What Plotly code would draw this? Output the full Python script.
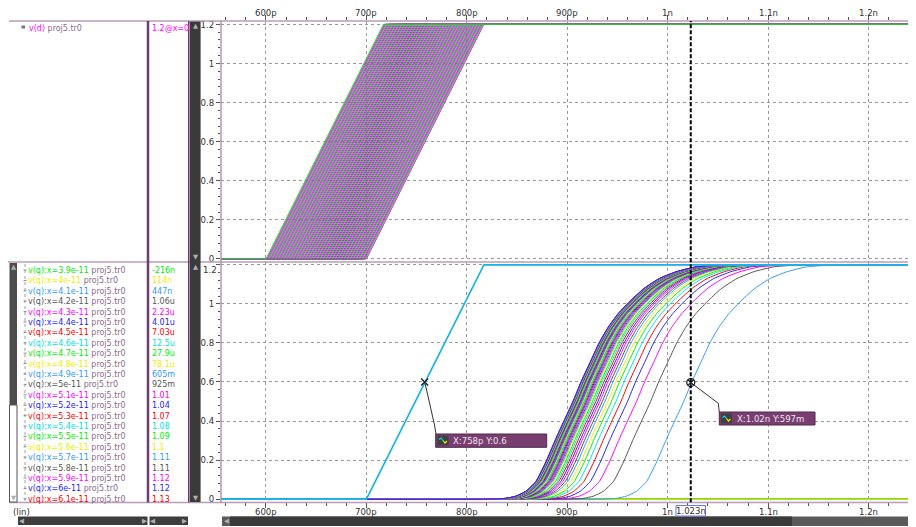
import plotly.graph_objects as go

# page body has an 8px default margin: the figure is placed at (8, 8) in the window
OX, OY = 8, 8
W, H = 908, 519
FONT = "Liberation Sans Narrow, DejaVu Sans Condensed, Liberation Sans, sans-serif"

# ---------------- data ----------------
x_tick_vals = [600, 700, 800, 900, 1000, 1100, 1200]          # ps
x_tick_text = ["600p", "700p", "800p", "900p", "1n", "1.1n", "1.2n"]
y_tick_vals = [0, 0.2, 0.4, 0.6, 0.8, 1.0, 1.2]
y_tick_text_top = ["0", "0.2", "0.4", "0.6", "0.8", "1", "1.2"]
y_tick_text_bottom = ["0", "0.2", "0.4", "0.6", "0.8", "1", ""]

sweep_x_ps = list(range(0, 101))        # parameter x: 0 .. 1e-10 step 1e-12
clk_start_ps = 700                      # clock edge starts at 700p
edge_ps = 117                           # 0 -> 1.2 V ramp duration
vdd = 1.2
t_start_ps, t_end_ps = 540, 1260

# v(q) of the sweeps that switch: 50% (0.6 V) crossing time
q_switch_x_ps = list(range(49, 101))
q_t50_ps = [1024, 991, 977, 968, 961.5, 956.5, 952, 948.5, 945.5, 943,
            940.5, 938.5, 936.5, 934.8, 933.2, 931.8, 930.5, 929.3, 928.2, 927.2,
            926.2, 925.3, 924.5, 923.7, 923, 922.3, 921.7, 921.1, 920.5, 920,
            919.5, 919, 918.6, 918.2, 917.8, 917.4, 917.1, 916.8, 916.5, 916.2,
            915.9, 915.6, 915.4, 915.2, 915, 914.8, 914.6, 914.4, 914.2, 914,
            913.8, 913.6]
# v(q) rising edge (time relative to 0.6 V crossing)
q_shape_dt = [-90, -75, -65, -55, -45, -35, -25, -17, -8, 0, 9, 18, 27, 37, 50, 63, 78, 95, 115, 145]
q_shape_v = [0, 0.004, 0.015, 0.04, 0.09, 0.19, 0.31, 0.40, 0.50, 0.60, 0.70, 0.80, 0.88, 0.95,
             1.02, 1.08, 1.13, 1.165, 1.19, 1.2]

legend_sweep_ps = list(range(39, 62))
legend_x_labels = ["3.9e-11", "4e-11", "4.1e-11", "4.2e-11", "4.3e-11", "4.4e-11", "4.5e-11",
                   "4.6e-11", "4.7e-11", "4.8e-11", "4.9e-11", "5e-11", "5.1e-11", "5.2e-11",
                   "5.3e-11", "5.4e-11", "5.5e-11", "5.6e-11", "5.7e-11", "5.8e-11", "5.9e-11",
                   "6e-11", "6.1e-11"]
legend_values = ["-216n", "114n", "447n", "1.06u", "2.23u", "4.01u", "7.03u", "12.5u", "27.9u",
                 "78.1u", "605m", "925m", "1.01", "1.04", "1.07", "1.08", "1.09", "1.1", "1.11",
                 "1.11", "1.12", "1.12", "1.13"]

marker_t_ps = [758, 1023]
marker_v = [0.6, 0.597]
marker_labels = ["X:758p Y:0.6", "X:1.02n Y:597m"]
cursor_t_ps = 1023
cursor_label = "1.023n"

top_cycle = ["#ff00ff", "#00ee00", "#9a3fd0"]
q_cycle = ["#eeee00", "#3399ff", "#555555", "#ff00ff", "#2323ff", "#ff0000", "#00e0e0", "#00ee00"]

# ---------------- helpers (window pixel -> paper) ----------------
def px(x):
    return (max(x, OX) - OX) / W

def py(y):
    return 1 - (max(y, OY) - OY) / H

shapes = []
annos = []

def rect(x0, y0, x1, y1, fill, line=None, lw=0):
    shapes.append(dict(type="rect", xref="paper", yref="paper", x0=px(x0), x1=px(x1),
                       y0=py(y1), y1=py(y0), fillcolor=fill,
                       line=dict(color=line or fill, width=lw), layer="above"))

def seg(x0, y0, x1, y1, color, width=1, dash=None):
    ln = dict(color=color, width=width)
    if dash:
        ln["dash"] = dash
    shapes.append(dict(type="line", xref="paper", yref="paper", x0=px(x0), x1=px(x1),
                       y0=py(y0), y1=py(y1), line=ln, layer="above"))

def path(points, color, width=1):
    d = "M " + " L ".join(f"{px(a)},{py(b)}" for a, b in points)
    shapes.append(dict(type="path", xref="paper", yref="paper", path=d,
                       line=dict(color=color, width=width), layer="above"))

def text(x, y, s, color="#333", size=9.5, anchor="left", font=FONT, xref="paper"):
    annos.append(dict(xref=xref, yref="paper", x=(x if xref != "paper" else px(x)), y=py(y),
                      text=s, showarrow=False, xanchor=anchor, yanchor="middle",
                      font=dict(family=font, size=size, color=color), borderpad=0))

# ---------------- traces ----------------
fig = go.Figure()

# top panel: v(d) for every sweep
for x in sweep_x_ps:
    t0 = clk_start_ps - x
    fig.add_trace(go.Scatter(x=[t_start_ps, t0, t0 + edge_ps, t_end_ps], y=[0, 0, vdd, vdd],
                             mode="lines", line=dict(color=top_cycle[x % 3], width=1),
                             xaxis="x", yaxis="y", showlegend=False, hoverinfo="skip"))

# lower panel: v(q) for every sweep
t50_of = dict(zip(q_switch_x_ps, q_t50_ps))
for x in sweep_x_ps:
    c = q_cycle[x % 8]
    if x in t50_of:
        t50 = t50_of[x]
        tx = [t_start_ps] + [t50 + d for d in q_shape_dt] + [t_end_ps]
        vy = [0] + q_shape_v + [vdd]
        fig.add_trace(go.Scatter(x=tx, y=vy, mode="lines",
                                 line=dict(color=c, width=1, shape="spline", smoothing=0.5),
                                 xaxis="x2", yaxis="y2", showlegend=False, hoverinfo="skip"))
    else:
        fig.add_trace(go.Scatter(x=[t_start_ps, t_end_ps], y=[0, 0], mode="lines",
                                 line=dict(color=c, width=1.2),
                                 xaxis="x2", yaxis="y2", showlegend=False, hoverinfo="skip"))

# clock edge in lower panel
clk_t = [t_start_ps, clk_start_ps, clk_start_ps + edge_ps, t_end_ps]
clk_v = [0, 0, vdd, vdd]
fig.add_trace(go.Scatter(x=clk_t, y=clk_v, mode="lines", line=dict(color="#00d8d8", width=1.6),
                         xaxis="x2", yaxis="y2", showlegend=False, hoverinfo="skip"))
fig.add_trace(go.Scatter(x=clk_t, y=clk_v, mode="lines", line=dict(color="#3399ff", width=1),
                         xaxis="x2", yaxis="y2", showlegend=False, hoverinfo="skip"))

# measurement markers
fig.add_trace(go.Scatter(x=[marker_t_ps[0]], y=[marker_v[0]], mode="markers",
                         marker=dict(symbol="x-thin-open", size=7, color="#222",
                                     line=dict(color="#222", width=1.4)),
                         xaxis="x2", yaxis="y2", showlegend=False, hoverinfo="skip"))
fig.add_trace(go.Scatter(x=[marker_t_ps[1]], y=[marker_v[1]], mode="markers",
                         marker=dict(symbol="circle-x-open", size=8, color="#222",
                                     line=dict(color="#222", width=1.3)),
                         xaxis="x2", yaxis="y2", showlegend=False, hoverinfo="skip"))

# ---------------- chrome ----------------
PURP_L = "#b89cb8"
PURP_D = "#6e3c6e"

seg(9, 21, 916, 21, PURP_L, 1.5)
seg(8, 262, 916, 262, PURP_L, 1.5)
seg(9, 502.5, 916, 502.5, PURP_L, 1.5)
seg(148, 21, 148, 502.5, PURP_D, 2.5)
seg(188.7, 21, 188.7, 502.5, PURP_D, 1.5)
rect(189.8, 21.5, 200.6, 502, "#3a3a3a")
seg(914.6, 21, 914.6, 502.5, PURP_D, 1.5)
seg(221, 21, 221, 502.5, "#a07ca0", 1.2)

# left list scrollbar (lower pane)
rect(9.5, 263, 17, 405, "#4d4d4d")
rect(9.5, 405, 17, 502, "#ffffff", "#555", 1)
# tree connector
seg(25, 264, 25, 502, "#a0a0a0", 1, "dot")

# top legend icon
rect(21.5, 25.5, 25, 28.5, "#777")

# bottom scroll row
rect(18, 516.5, 147.5, 525, "#3d3d3d")
rect(149.5, 516.5, 188, 525, "#3d3d3d")
rect(222, 516.5, 916, 526, "#5a5a5a")
rect(230, 516.5, 792, 526, "#3a3a3a")

# cursor label box
rect(676, 505.5, 705.5, 516, "#ffffff", "#7070ff", 1)

# measurement label boxes + connectors
path([(425, 383), (434.5, 425), (436, 434)], "#333", 1)
path([(690, 382), (718.3, 403.3), (719.3, 412.5)], "#333", 1)
rect(435.7, 434, 546.7, 447.3, "#793e70", "#4e2a4e", 1)
rect(719.3, 412, 815, 425, "#793e70", "#4e2a4e", 1)
for bx, by in [(437.5, 435.5), (721, 413.5)]:
    rect(bx, by, bx + 11, by + 10, "#404040")
    path([(bx + 1.5, by + 4), (bx + 3.5, by + 2.5), (bx + 5.5, by + 5)], "#00e0e0", 1.2)
    path([(bx + 5.5, by + 5), (bx + 7.5, by + 7.5), (bx + 9.5, by + 5.5)], "#eeee00", 1.2)

# cursor line
shapes.append(dict(type="line", xref="x2", yref="paper", x0=cursor_t_ps, x1=cursor_t_ps,
                   y0=py(502.3), y1=py(21), line=dict(color="#000", width=2, dash="4px,2px"),
                   layer="above"))

# ---------------- texts ----------------
LEG = 8.9
text(27.5, 27.5, '<span style="color:#ff00ff">v(d)</span> <span style="color:#8d6b8d">proj5.tr0</span>', size=LEG)
text(151, 27.5, "1.2@x=0", "#ff00ff", LEG)

row0, dy = 270.0, 10.4
for k, (sx, lab, val) in enumerate(zip(legend_sweep_ps, legend_x_labels, legend_values)):
    c = q_cycle[sx % 8]
    yrow = row0 + k * dy
    seg(23.5, yrow, 26.5, yrow, "#888", 1)
    text(27, yrow, f'<span style="color:{c}">v(q):x={lab}</span> '
                   f'<span style="color:#8d6b8d">proj5.tr0</span>', size=LEG)
    text(151, yrow, val, c, LEG)

# arrows on scrollbars
for (ax_, ay_, ch) in [(195.2, 26, "▲"), (195.2, 257, "▼"), (195.2, 267, "▲"), (195.2, 497.5, "▼"),
                       (13.3, 267, "▲"), (13.3, 498, "▼"),
                       (21.5, 521, "◀"), (144.5, 521, "▶"), (152.5, 521, "◀"), (184.5, 521, "▶"),
                       (226, 521, "◀"), (910.5, 521, "▶")]:
    text(ax_, ay_, ch, "#b0b0b0", 6.5, "center", "DejaVu Sans")

AX = 9.5
# time axis labels (top and bottom)
for tv, tt in zip(x_tick_vals, x_tick_text):
    text(tv, 12.8, tt, "#333", AX, "center", xref="x")
    text(tv, 511.3, tt, "#333", AX, "center", xref="x2")

text(11.5, 511.5, "(lin)", "#333", AX)
text(690.7, 510.8, cursor_label, "#333", AX, "center")
text(217.5, 269, "1.2", "#333", AX, "right")
text(452, 440.8, marker_labels[0], "#f0e2f0", AX)
text(735.5, 418.6, marker_labels[1], "#f0e2f0", AX)

# ---------------- axes ----------------
XR = [555.2, 1245.9]
xdom = [px(221), px(914.6)]
ydom_top = [py(261.7), py(21)]
ydom_bot = [py(502.4), py(262.3)]

common_x = dict(domain=xdom, range=XR, tickmode="array", tickvals=x_tick_vals, ticktext=x_tick_text,
                showticklabels=False,
                ticks="outside", ticklen=5, tickcolor="#555", tickwidth=1,
                showgrid=True, gridcolor="#9a9a9a", griddash="3px,3px", gridwidth=1,
                zeroline=False, showline=False, automargin=False, fixedrange=True,
                minor=dict(tickmode="linear", tick0=0, dtick=20, ticks="outside", ticklen=3,
                           tickcolor="#555", showgrid=False))
common_y = dict(tickmode="array", tickvals=y_tick_vals,
                ticks="outside", ticklen=4, tickcolor="#555", tickwidth=1,
                tickfont=dict(family=FONT, size=AX, color="#333"),
                showgrid=True, gridcolor="#9a9a9a", griddash="3px,3px", gridwidth=1,
                zeroline=False, showline=False, automargin=False, fixedrange=True,
                minor=dict(tickmode="linear", tick0=0, dtick=0.04, ticks="outside", ticklen=2,
                           tickcolor="#555", showgrid=False))

fig.update_layout(
    width=W, height=H, margin=dict(l=0, r=0, t=0, b=0, pad=0),
    paper_bgcolor="white", plot_bgcolor="white", showlegend=False,
    xaxis=dict(common_x, anchor="y", side="top"),
    xaxis2=dict(common_x, anchor="y2", side="bottom", matches="x"),
    yaxis=dict(common_y, domain=ydom_top, range=[-0.014, 1.217], anchor="x", ticktext=y_tick_text_top),
    yaxis2=dict(common_y, domain=ydom_bot, range=[-0.017, 1.213], anchor="x2", ticktext=y_tick_text_bottom),
    shapes=shapes, annotations=annos,
)

fig.write_html("out.html")
